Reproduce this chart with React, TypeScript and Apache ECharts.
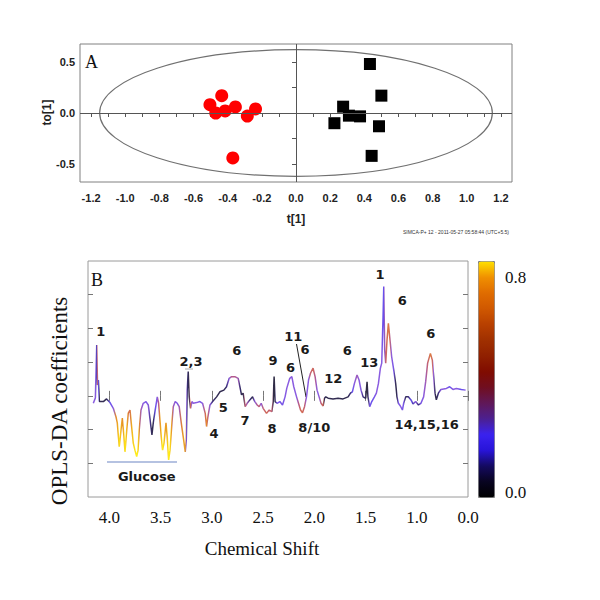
import React, { useEffect, useRef } from 'react';
import * as echarts from 'echarts';

// ---------- Panel A : OPLS-DA score plot ----------
const GROUP1_T = [-0.504, -0.435, -0.47, -0.415, -0.355, -0.285, -0.237, -0.37];
const GROUP1_TO = [0.081, 0.17, 0.0, 0.02, 0.06, -0.03, 0.04, -0.44];
const GROUP2_T = [0.433, 0.5, 0.276, 0.31, 0.375, 0.225, 0.486, 0.443];
const GROUP2_TO = [0.48, 0.17, 0.062, -0.026, -0.033, -0.1, -0.13, -0.42];
const ELLIPSE_T = 1.15; // Hotelling T2 semi-axis along t[1]
const ELLIPSE_TO = 0.62; // semi-axis along to[1]
const T_RANGE = [-1.265, 1.265];
const TO_RANGE = [-0.676, 0.676];
const T_TICKS = [-1.2, -1.1, -1.0, -0.9, -0.8, -0.7, -0.6, -0.5, -0.4, -0.3, -0.2, -0.1, 0, 0.1, 0.2, 0.3, 0.4, 0.5, 0.6, 0.7, 0.8, 0.9, 1.0, 1.1, 1.2];
const T_LABELS = [-1.2, -1.0, -0.8, -0.6, -0.4, -0.2, 0, 0.2, 0.4, 0.6, 0.8, 1.0, 1.2];
const TO_TICKS = [-0.5, -0.25, 0, 0.25, 0.5];
const TO_LABELS = [-0.5, 0, 0.5];

// ---------- Panel B : OPLS-DA coefficient plot ----------
const PPM = [
  4.156, 4.136, 4.123, 4.115, 4.107, 4.097, 4.058, 4.027, 3.993, 3.961,
  3.935, 3.922, 3.903, 3.886, 3.873, 3.857, 3.847, 3.830, 3.815, 3.798,
  3.786, 3.766, 3.750, 3.733, 3.720, 3.708, 3.691, 3.669, 3.642, 3.620,
  3.596, 3.584, 3.571, 3.552, 3.532, 3.519, 3.506, 3.493, 3.480, 3.467,
  3.447, 3.435, 3.421, 3.408, 3.389, 3.376, 3.357, 3.337, 3.318, 3.298,
  3.279, 3.259, 3.249, 3.240, 3.230, 3.220, 3.207, 3.194, 3.181, 3.148,
  3.116, 3.090, 3.064, 3.051, 3.038, 3.018, 2.992, 2.953, 2.921, 2.882,
  2.856, 2.830, 2.807, 2.775, 2.743, 2.726, 2.710, 2.694, 2.674, 2.655,
  2.629, 2.602, 2.580, 2.557, 2.538, 2.518, 2.499, 2.466, 2.440, 2.414,
  2.401, 2.392, 2.382, 2.363, 2.336, 2.310, 2.285, 2.268, 2.239, 2.219,
  2.200, 2.173, 2.154, 2.134, 2.115, 2.095, 2.076, 2.056, 2.037, 2.012,
  1.992, 1.973, 1.953, 1.934, 1.914, 1.900, 1.888, 1.865, 1.817, 1.768,
  1.719, 1.670, 1.647, 1.628, 1.608, 1.583, 1.563, 1.544, 1.524, 1.498,
  1.485, 1.476, 1.459, 1.439, 1.413, 1.394, 1.374, 1.355, 1.342, 1.329,
  1.322, 1.313, 1.303, 1.290, 1.277, 1.264, 1.245, 1.225, 1.206, 1.193,
  1.179, 1.160, 1.140, 1.128, 1.108, 1.082, 1.056, 1.037, 1.011, 0.984,
  0.959, 0.933, 0.913, 0.894, 0.867, 0.848, 0.835, 0.822, 0.809, 0.789,
  0.764, 0.711, 0.679, 0.647, 0.614, 0.565, 0.523,
];
const COEF = [
  -0.022, -0.006, 0.151, 0.032, 0.047, -0.017, -0.017, -0.009, -0.020, -0.037,
  -0.062, -0.080, -0.151, -0.101, -0.066, -0.121, -0.166, -0.101, -0.051, -0.042,
  -0.080, -0.140, -0.161, -0.180, -0.161, -0.101, -0.042, -0.022, -0.017, -0.027,
  -0.086, -0.116, -0.080, -0.042, -0.003, -0.022, -0.072, -0.121, -0.161, -0.140,
  -0.080, -0.121, -0.190, -0.161, -0.080, -0.032, -0.017, -0.022, -0.032, -0.080,
  -0.121, -0.166, -0.131, 0.017, 0.072, -0.003, -0.037, -0.017, -0.022, -0.020,
  -0.017, -0.022, -0.052, -0.091, -0.062, -0.027, -0.017, -0.003, 0.012, 0.017,
  0.027, 0.052, 0.057, 0.057, 0.052, 0.027, 0.003, 0.008, -0.032, -0.022,
  -0.012, -0.003, -0.017, -0.027, -0.032, -0.022, -0.037, -0.052, -0.042, -0.047,
  -0.017, 0.057, -0.017, -0.022, -0.017, -0.027, -0.003, 0.023, 0.052, 0.057,
  0.027, -0.003, -0.022, -0.042, -0.050, -0.032, -0.003, 0.047, 0.067, 0.082,
  0.057, 0.017, -0.003, -0.022, -0.030, -0.007, -0.003, -0.007, -0.009, -0.007,
  -0.009, -0.003, 0.008, 0.012, 0.037, 0.062, 0.047, 0.017, -0.003, -0.007,
  0.042, -0.003, -0.032, -0.017, -0.003, 0.008, 0.037, 0.082, 0.097, 0.235,
  0.324, 0.136, 0.097, 0.166, 0.215, 0.175, 0.116, 0.077, 0.037, -0.003,
  -0.022, -0.030, -0.042, -0.022, -0.003, -0.003, -0.012, -0.024, -0.017, -0.027,
  -0.022, -0.003, 0.042, 0.097, 0.126, 0.106, 0.057, 0.008, -0.012, 0.008,
  0.019, 0.022, 0.027, 0.019, 0.022, 0.019, 0.017,
];
const CORR = [
  0.3, 0.3, 0.15, 0.45, 0.2, 0.05, 0.05, 0.05, 0.2, 0.3,
  0.6, 0.65, 0.78, 0.7, 0.6, 0.72, 0.8, 0.7, 0.55, 0.5,
  0.65, 0.75, 0.78, 0.8, 0.78, 0.6, 0.35, 0.3, 0.25, 0.3,
  0.1, 0.05, 0.05, 0.2, 0.3, 0.4, 0.6, 0.72, 0.8, 0.75,
  0.6, 0.72, 0.8, 0.78, 0.6, 0.35, 0.3, 0.25, 0.35, 0.55,
  0.65, 0.65, 0.3, 0.1, 0.05, 0.05, 0.5, 0.3, 0.3, 0.3,
  0.25, 0.3, 0.5, 0.6, 0.45, 0.3, 0.1, 0.05, 0.05, 0.05,
  0.1, 0.3, 0.4, 0.4, 0.35, 0.1, 0.05, 0.05, 0.45, 0.35,
  0.1, 0.05, 0.3, 0.4, 0.45, 0.3, 0.45, 0.5, 0.45, 0.45,
  0.05, 0.02, 0.05, 0.25, 0.25, 0.25, 0.28, 0.3, 0.3, 0.3,
  0.3, 0.3, 0.4, 0.5, 0.5, 0.45, 0.3, 0.3, 0.45, 0.5,
  0.4, 0.3, 0.3, 0.45, 0.5, 0.05, 0.05, 0.05, 0.05, 0.05,
  0.05, 0.05, 0.1, 0.2, 0.3, 0.35, 0.3, 0.28, 0.1, 0.05,
  0.02, 0.05, 0.25, 0.2, 0.25, 0.3, 0.3, 0.3, 0.3, 0.2,
  0.2, 0.35, 0.45, 0.5, 0.55, 0.5, 0.3, 0.25, 0.05, 0.05,
  0.25, 0.3, 0.25, 0.25, 0.05, 0.1, 0.2, 0.15, 0.3, 0.1,
  0.25, 0.3, 0.35, 0.45, 0.55, 0.5, 0.3, 0.05, 0.05, 0.1,
  0.3, 0.3, 0.2, 0.3, 0.3, 0.2, 0.3,
];
const SHIFT_RANGE = [0.5, 4.208];
const SHIFT_TICK_VALUES = [4.0, 3.5, 3.0, 2.5, 2.0, 1.5, 1.0, 0.5];
const SHIFT_TICK_LABELS = ['4.0', '3.5', '3.0', '2.5', '2.0', '1.5', '1.0', '0.0'];
const COEF_RANGE = [-0.3, 0.4];
const COEF_TICKS = [-0.2, -0.1, 0, 0.1, 0.2, 0.3];
const CORR_RANGE = [0, 0.8];

// peak annotations (label text and its place on the page)
const PEAK_LABELS: [string, number, number][] = [
  ['1', 100.7, 331], ['2,3', 191, 361], ['6', 236.7, 350], ['5', 223.3, 407],
  ['4', 214, 433], ['7', 245, 420], ['8', 272, 428], ['9', 273, 360],
  ['11', 293.3, 336], ['6', 305, 349], ['6', 290.5, 367], ['8/10', 314.3, 427],
  ['12', 333.3, 378.3], ['6', 347.3, 350.7], ['13', 369.3, 362.3], ['1', 380, 274],
  ['6', 402.3, 300.7], ['6', 430.7, 333.3], ['14,15,16', 426.7, 424.3], ['Glucose', 146.7, 476],
];

// colour scales
const BAR_COLORS = [
  '#000000', '#080420', '#140a60', '#2814d8', '#3a22f0', '#4c2090', '#601858', '#700e20',
  '#800c00', '#902000', '#a03000', '#b84000', '#d05800', '#e06c00', '#f09000', '#ffe000',
];
const LINE_COLOR_STOPS: [number, string][] = [
  [0.0, '#2b2b2b'], [0.1, '#3b2f78'], [0.2, '#6650ee'], [0.3, '#8a5ce0'], [0.4, '#b45a8c'],
  [0.5, '#d26a58'], [0.6, '#e48a2c'], [0.7, '#f2b41c'], [0.8, '#fff01a'],
];

function hexRgb(h: string) {
  return [parseInt(h.slice(1, 3), 16), parseInt(h.slice(3, 5), 16), parseInt(h.slice(5, 7), 16)];
}
function lineColor(v: number) {
  const s = LINE_COLOR_STOPS;
  if (v <= s[0][0]) return s[0][1];
  if (v >= s[s.length - 1][0]) return s[s.length - 1][1];
  for (let i = 0; i < s.length - 1; i++) {
    if (v >= s[i][0] && v <= s[i + 1][0]) {
      const f = (v - s[i][0]) / (s[i + 1][0] - s[i][0]);
      const a = hexRgb(s[i][1]);
      const b = hexRgb(s[i + 1][1]);
      const c = a.map((x, k) => Math.round(x + (b[k] - x) * f));
      return `rgb(${c[0]},${c[1]},${c[2]})`;
    }
  }
  return s[0][1];
}

function buildOption() {
  const n = PPM.length;
  const span = PPM[0] - PPM[n - 1];
  const gradient = {
    type: 'linear', x: 0, y: 0, x2: 1, y2: 0,
    colorStops: PPM.map((p, i) => ({ offset: (PPM[0] - p) / span, color: lineColor(CORR[i]) })),
  };

  const aLabelFont = { fontFamily: 'Liberation Sans, Arial, sans-serif', fontWeight: 'bold', fontSize: 11, color: '#222' };
  const serif = 'Liberation Serif, "Times New Roman", serif';
  const bTick = { show: true, inside: true, length: 5, lineStyle: { color: '#777', width: 1 } };

  const graphics: any[] = [
    { type: 'text', style: { text: 'A', x: 85, y: 62, font: `18px ${serif}`, fill: '#111', verticalAlign: 'middle' } },
    { type: 'text', x: 46.5, y: 112.5, rotation: Math.PI / 2, style: { text: 'to[1]', x: 0, y: 0, align: 'center', verticalAlign: 'middle', font: 'bold 12px "Liberation Sans", Arial, sans-serif', fill: '#222' } },
    { type: 'text', style: { text: 't[1]', x: 296, y: 219, align: 'center', verticalAlign: 'middle', font: 'bold 12px "Liberation Sans", Arial, sans-serif', fill: '#222' } },
    { type: 'text', style: { text: 'SIMCA-P+ 12 - 2011-05-27 05:58:44 (UTC+5.5)', x: 509, y: 232, align: 'right', verticalAlign: 'middle', font: '5px "Liberation Sans", Arial, sans-serif', fill: '#333' } },
    { type: 'text', style: { text: 'B', x: 91, y: 280, font: `18px ${serif}`, fill: '#111', verticalAlign: 'middle' } },
    { type: 'text', x: 59, y: 401, rotation: Math.PI / 2, style: { text: 'OPLS-DA coefficients', x: 0, y: 0, align: 'center', verticalAlign: 'middle', font: `23px ${serif}`, fill: '#111' } },
    { type: 'text', style: { text: 'Chemical Shift', x: 262, y: 548, align: 'center', verticalAlign: 'middle', font: `19px ${serif}`, fill: '#111' } },
    { type: 'text', style: { text: CORR_RANGE[1].toFixed(1), x: 505, y: 277, verticalAlign: 'middle', font: `17px ${serif}`, fill: '#111' } },
    { type: 'text', style: { text: CORR_RANGE[0].toFixed(1), x: 505, y: 492, verticalAlign: 'middle', font: `17px ${serif}`, fill: '#111' } },
    { type: 'line', shape: { x1: 107, y1: 462, x2: 177, y2: 462 }, style: { stroke: '#6d86c4', lineWidth: 1.2 } },
    { type: 'line', shape: { x1: 296.5, y1: 344, x2: 306, y2: 397 }, style: { stroke: '#222', lineWidth: 1 } },
    { type: 'line', shape: { x1: 185, y1: 369, x2: 193, y2: 369 }, style: { stroke: '#aaa', lineWidth: 1 } },
  ];
  PEAK_LABELS.forEach(([t, x, y]) => {
    graphics.push({
      type: 'text',
      style: { text: t, x, y, align: 'center', verticalAlign: 'middle', font: 'bold 13px "DejaVu Sans", sans-serif', fill: '#1a1a1a' },
    });
  });

  return {
    animation: false,
    backgroundColor: '#fff',
    grid: [
      { left: 80, top: 44, width: 432, height: 138, show: true, borderColor: '#808080', borderWidth: 1, backgroundColor: 'transparent', outerBoundsMode: 'none', containLabel: false },
      { left: 88, top: 261, width: 380, height: 236, show: true, borderColor: '#9a9a9a', borderWidth: 1, backgroundColor: 'transparent', outerBoundsMode: 'none', containLabel: false },
    ],
    xAxis: [
      {
        gridIndex: 0, type: 'value', min: T_RANGE[0], max: T_RANGE[1],
        axisLine: { show: false }, splitLine: { show: false },
        axisTick: { show: true, inside: false, length: 4, customValues: T_TICKS, lineStyle: { color: '#555' } },
        axisLabel: { ...aLabelFont, margin: 10, customValues: T_LABELS, formatter: (v: number) => v.toFixed(1) },
      },
      {
        gridIndex: 1, type: 'value', inverse: true, min: SHIFT_RANGE[0], max: SHIFT_RANGE[1], position: 'bottom',
        axisLine: { show: false }, splitLine: { show: false },
        axisTick: { ...bTick, customValues: SHIFT_TICK_VALUES },
        axisLabel: {
          fontFamily: serif, fontSize: 17, color: '#111', margin: 12, customValues: SHIFT_TICK_VALUES,
          formatter: (v: number) => {
            const i = SHIFT_TICK_VALUES.findIndex((t) => Math.abs(t - v) < 1e-6);
            return i >= 0 ? SHIFT_TICK_LABELS[i] : '';
          },
        },
      },
      {
        gridIndex: 1, type: 'value', inverse: true, min: SHIFT_RANGE[0], max: SHIFT_RANGE[1], position: 'top',
        axisLine: { show: false }, splitLine: { show: false },
        axisTick: { ...bTick, customValues: SHIFT_TICK_VALUES }, axisLabel: { show: false },
      },
    ],
    yAxis: [
      {
        gridIndex: 0, type: 'value', min: TO_RANGE[0], max: TO_RANGE[1],
        axisLine: { show: false }, splitLine: { show: false },
        axisTick: { show: true, inside: false, length: 4, customValues: TO_TICKS, lineStyle: { color: '#555' } },
        axisLabel: { ...aLabelFont, margin: 5, customValues: TO_LABELS, formatter: (v: number) => v.toFixed(1) },
      },
      {
        gridIndex: 1, type: 'value', min: COEF_RANGE[0], max: COEF_RANGE[1], interval: 0.1, position: 'left',
        axisLine: { show: false }, splitLine: { show: false },
        axisTick: { ...bTick, customValues: COEF_TICKS }, axisLabel: { show: false },
      },
      {
        gridIndex: 1, type: 'value', min: COEF_RANGE[0], max: COEF_RANGE[1], interval: 0.1, position: 'right',
        axisLine: { show: false }, splitLine: { show: false },
        axisTick: { ...bTick, customValues: COEF_TICKS }, axisLabel: { show: false },
      },
    ],
    visualMap: {
      type: 'continuous', min: CORR_RANGE[0], max: CORR_RANGE[1], seriesIndex: 3, dimension: 2,
      orient: 'vertical', left: 478, top: 261, itemWidth: 16, itemHeight: 236,
      calculable: false, hoverLink: false, padding: 0, borderColor: '#808080', borderWidth: 1,
      inRange: { color: BAR_COLORS }, textStyle: { color: 'transparent' },
    },
    series: [
      {
        type: 'custom', xAxisIndex: 0, yAxisIndex: 0, silent: true, clip: false, z: 1,
        data: [[0, 0]],
        renderItem: (params: any, api: any) => {
          const c = api.coord([0, 0]);
          const s = api.size([ELLIPSE_T, ELLIPSE_TO]);
          return {
            type: 'ellipse',
            shape: { cx: c[0], cy: c[1], rx: s[0], ry: s[1] },
            style: { fill: 'none', stroke: '#707070', lineWidth: 1.2 },
          };
        },
      },
      {
        type: 'scatter', xAxisIndex: 0, yAxisIndex: 0, symbol: 'circle', symbolSize: 13, z: 3,
        itemStyle: { color: '#ff0000', opacity: 1 },
        data: GROUP1_T.map((t, i) => [t, GROUP1_TO[i]]),
        markLine: {
          silent: true, symbol: ['none', 'none'], label: { show: false },
          lineStyle: { color: '#555', width: 1, type: 'solid' },
          data: [{ xAxis: 0 }, { yAxis: 0 }],
        },
      },
      {
        type: 'scatter', xAxisIndex: 0, yAxisIndex: 0, symbol: 'rect', symbolSize: 12, z: 3,
        itemStyle: { color: '#000', opacity: 1 },
        data: GROUP2_T.map((t, i) => [t, GROUP2_TO[i]]),
      },
      {
        type: 'line', xAxisIndex: 1, yAxisIndex: 1, showSymbol: false, symbol: 'none', silent: true,
        data: PPM.map((p, i) => [p, COEF[i], CORR[i]]),
        lineStyle: { width: 1.5, color: gradient },
      },
    ],
    graphic: graphics,
  };
}

export default function App() {
  const ref = useRef<HTMLDivElement>(null);
  useEffect(() => {
    if (!ref.current) return;
    const chart = echarts.init(ref.current, null, { renderer: 'svg' });
    chart.setOption(buildOption() as any);
    return () => chart.dispose();
  }, []);
  return (
    <div
      ref={ref}
      style={{ position: 'fixed', left: 0, top: 0, width: 600, height: 600, background: '#fff' }}
    />
  );
}
